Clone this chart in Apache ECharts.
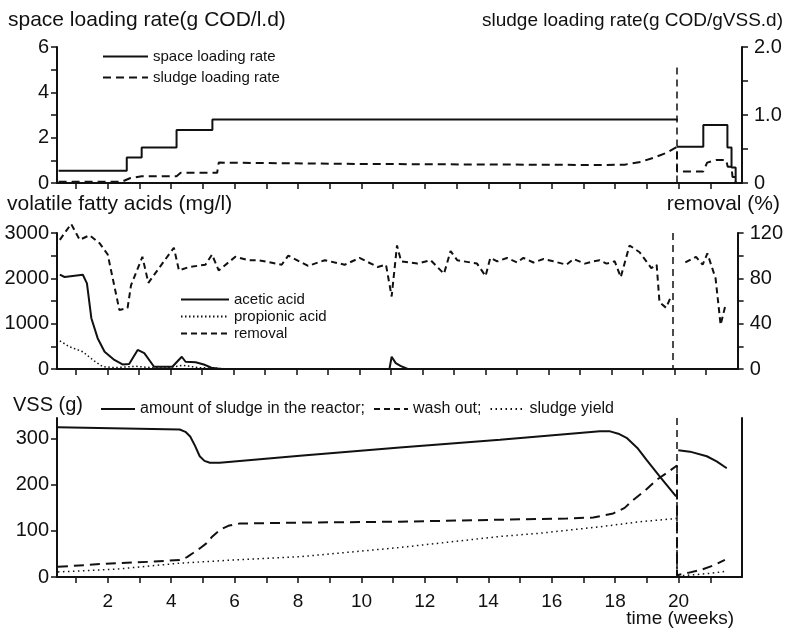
<!DOCTYPE html>
<html>
<head>
<meta charset="utf-8">
<script src="https://cdn.jsdelivr.net/npm/echarts@6/dist/echarts.min.js"></script>
<style>
  html, body { margin: 0; padding: 0; background: #fff; }
  #chart { width: 786px; height: 632px; }
</style>
</head>
<body>
<div id="chart"></div>
<script>
// x values are weeks, y values in the units of each panel's axis
var weekTicks = [1, 2, 3, 4, 5, 6, 7, 8, 9, 10, 11, 12, 13, 14, 15, 16, 17, 18, 19, 20, 21]
var weekLabels = [2, 4, 6, 8, 10, 12, 14, 16, 18, 20]
var switchWeek = 19.95

// top panel
var spaceLoading = [[0.45, 0.54], [2.6, 1.12], [3.07, 1.57], [4.17, 2.34], [5.3, 2.8], [19.95, 2.75], '-',
  [19.95, 1.6], [20.78, 2.56], [21.54, 1.57], [21.67, 0.68], [21.8, 0]]
var sludgeLoading = [[0.45, 0.02], [2.45, 0.02], [2.7, 0.07], [3.07, 0.1], [4.17, 0.1], [4.3, 0.15], [5.45, 0.15],
  [5.5, 0.3], [10, 0.28], [17.5, 0.265], [18.3, 0.27], [18.8, 0.31], [19.2, 0.37], [19.6, 0.44], [19.95, 0.53],
  [19.95, 0.17], [20.78, 0.17], [20.9, 0.3], [21.2, 0.34], [21.5, 0.34], [21.55, 0.24], [21.67, 0.24],
  [21.7, 0.09], [21.8, 0.09], [21.8, 0]]

// middle panel
var aceticAcid = [[0.49, 2080], [0.64, 2030], [1.22, 2080], [1.35, 1890], [1.49, 1120], [1.69, 680], [1.91, 380],
  [2.22, 200], [2.48, 100], [2.69, 110], [2.96, 420], [3.17, 350], [3.48, 50], [4.06, 50], [4.36, 270],
  [4.48, 160], [4.8, 150], [5.06, 100], [5.3, 30], [5.6, 0], '-',
  [10.95, 0], [11.02, 270], [11.15, 130], [11.3, 70], [11.53, 0]]
var propionicAcid = [[0.49, 620], [0.8, 490], [1.22, 380], [1.54, 200], [1.85, 50], [2.27, 30], [2.9, 60],
  [3.2, 40], [3.8, 20], [4.4, 80], [4.9, 30], [5.7, 10]]
var removal = [[0.49, 114], [0.85, 128], [1.12, 114], [1.43, 118], [1.75, 111], [2.01, 101], [2.38, 52],
  [2.64, 54], [2.75, 74], [3.11, 99], [3.3, 76], [3.74, 93], [4.11, 107], [4.27, 87], [4.59, 90], [5.11, 92],
  [5.32, 101], [5.53, 87], [6.06, 99], [6.48, 96], [6.8, 96], [7.53, 92], [7.74, 100], [8.37, 91], [8.9, 96],
  [9.53, 92], [10.0, 98], [10.58, 90], [10.84, 92], [11.02, 64], [11.19, 109], [11.32, 95], [11.84, 93],
  [12.26, 96], [12.68, 84], [12.89, 104], [13.1, 96], [13.73, 93], [14.0, 82], [14.15, 98], [14.37, 95],
  [14.68, 98], [15.0, 94], [15.2, 98], [15.52, 94], [15.84, 97], [16.15, 95], [16.57, 92], [16.79, 97],
  [17.15, 93], [17.42, 95], [17.62, 96], [17.84, 93], [18.1, 95], [18.29, 81], [18.57, 109], [18.89, 103],
  [19.26, 89], [19.43, 92], [19.52, 59], [19.73, 54], [19.9, 65], '-',
  [20.34, 94], [20.68, 99], [20.89, 92], [21.04, 102], [21.3, 80], [21.46, 39], [21.62, 57]]

// bottom panel
var sludgeAmount = [[0.43, 325], [4.27, 320], [4.45, 315], [4.6, 305], [4.75, 285], [4.9, 262], [5.05, 252],
  [5.22, 248], [5.53, 248], [8.06, 263], [11.21, 281], [14.37, 298], [17.52, 316], [17.84, 316], [18.1, 311],
  [18.36, 302], [18.7, 280], [18.99, 254], [19.41, 218], [19.92, 175], '-',
  [19.99, 275], [20.36, 272], [20.89, 262], [21.2, 251], [21.52, 236]]
var washOut = [[0.43, 22], [1.75, 28], [3.32, 33], [4.27, 37], [4.5, 43], [4.69, 52], [4.9, 62], [5.11, 73],
  [5.3, 88], [5.53, 102], [5.8, 111], [6.16, 116], [8, 118], [11.2, 120], [16.47, 127], [17.31, 129],
  [17.94, 138], [18.3, 150], [18.57, 167], [18.95, 188], [19.31, 211], [19.65, 227], [19.95, 242],
  [19.95, 4], [20.3, 9], [20.68, 15], [21.1, 25], [21.46, 37]]
var sludgeYield = [[0.43, 11], [2.27, 17], [4.27, 30], [6, 37], [8.06, 44], [11.21, 64], [14.37, 88],
  [15.63, 95], [17.52, 109], [18.8, 120], [19.95, 127], [19.95, 2], [20.5, 5], [21.0, 8], [21.46, 12]]

var font = 'Liberation Sans'
var ink = '#111'

function xAxisCfg(gridIndex, showLabels) {
  return {
    type: 'value',
    gridIndex: gridIndex,
    min: 0.4,
    max: 22,
    axisLine: { lineStyle: { color: ink, width: 2 } },
    axisTick: { customValues: weekTicks, length: 6, lineStyle: { color: ink, width: 1.5 } },
    axisLabel: { show: showLabels, customValues: weekLabels, color: ink, fontSize: 19, fontFamily: font, margin: 15 },
    splitLine: { show: false }
  }
}

function yAxisCfg(gridIndex, pos, max, labels, ticks, fmt) {
  return {
    type: 'value',
    gridIndex: gridIndex,
    position: pos,
    min: 0,
    max: max,
    axisLine: { show: true, lineStyle: { color: ink, width: 2 } },
    axisTick: { show: !!ticks, customValues: ticks || [], length: 6, lineStyle: { color: ink, width: 1.5 } },
    axisLabel: {
      show: !!labels,
      customValues: labels || [],
      color: ink,
      fontSize: 20,
      fontFamily: font,
      margin: pos === 'left' ? 8 : 12,
      formatter: fmt || function (v) { return String(v) }
    },
    splitLine: { show: false }
  }
}

function switchLine(top) {
  return {
    silent: true,
    symbol: 'none',
    label: { show: false },
    lineStyle: { color: ink, type: [7, 5], width: 1.5 },
    data: [[{ coord: [switchWeek, top] }, { coord: [switchWeek, 0] }]]
  }
}

function legendCfg(names, left, top, orient, gap, width, size) {
  return {
    data: names,
    left: left,
    top: top,
    orient: orient,
    itemGap: gap,
    itemWidth: width,
    itemHeight: 10,
    padding: 0,
    itemStyle: { opacity: 0 },
    textStyle: { color: ink, fontSize: size, fontFamily: font },
    selectedMode: false
  }
}

var chart = echarts.init(document.getElementById('chart'), null, { renderer: 'canvas' })

var option = {
  backgroundColor: '#fff',
  animation: false,
  title: [
    { text: 'space loading rate(g COD/l.d)', left: 8, top: 10, padding: 0, textStyle: { fontSize: 21, fontWeight: 'normal', color: ink, fontFamily: font } },
    { text: 'sludge loading rate(g COD/gVSS.d)', right: 3, top: 11, padding: 0, textStyle: { fontSize: 19, fontWeight: 'normal', color: ink, fontFamily: font } },
    { text: 'volatile fatty acids (mg/l)', left: 7, top: 194, padding: 0, textStyle: { fontSize: 21, fontWeight: 'normal', color: ink, fontFamily: font } },
    { text: 'removal (%)', right: 6, top: 194, padding: 0, textStyle: { fontSize: 21, fontWeight: 'normal', color: ink, fontFamily: font } },
    { text: 'VSS (g)', left: 13, top: 395, padding: 0, textStyle: { fontSize: 20, fontWeight: 'normal', color: ink, fontFamily: font } },
    { text: 'time (weeks)', right: 52, top: 609, padding: 0, textStyle: { fontSize: 19, fontWeight: 'normal', color: ink, fontFamily: font } }
  ],
  legend: [
    legendCfg(['space loading rate', 'sludge loading rate'], 102, 49, 'vertical', 6, 45, 15),
    legendCfg(['acetic acid', 'propionic acid', 'removal'], 180, 292, 'vertical', 2, 48, 15),
    legendCfg(['amount of sludge in the reactor;', { name: 'wash out;', lineStyle: { type: [6, 4] } }, 'sludge yield'],
      100, 401, 'horizontal', 8, 34, 16)
  ],
  grid: [
    { left: 57, right: 44, top: 47, height: 136 },
    { left: 57, right: 44, top: 233, height: 136 },
    { left: 57, right: 44, top: 418, height: 159 }
  ],
  xAxis: [xAxisCfg(0, false), xAxisCfg(1, false), xAxisCfg(2, true)],
  yAxis: [
    yAxisCfg(0, 'left', 6, [0, 2, 4, 6], [0, 1, 2, 3, 4, 5, 6]),
    yAxisCfg(0, 'right', 2, [0, 1, 2], [0, 0.5, 1, 1.5, 2], function (v) { return v === 0 ? '0' : v.toFixed(1) }),
    yAxisCfg(1, 'left', 3000, [0, 1000, 2000, 3000], [0, 500, 1000, 1500, 2000, 2500, 3000]),
    yAxisCfg(1, 'right', 120, [0, 40, 80, 120], [0, 20, 40, 60, 80, 100, 120]),
    yAxisCfg(2, 'left', 345, [0, 100, 200, 300], [0, 100, 200, 300]),
    yAxisCfg(2, 'right', 345, null, null)
  ],
  series: [
    {
      name: 'space loading rate', type: 'line', xAxisIndex: 0, yAxisIndex: 0, step: 'end',
      symbol: 'none', data: spaceLoading, lineStyle: { color: ink, width: 2 }, itemStyle: { color: ink },
      markLine: switchLine(5.1)
    },
    {
      name: 'sludge loading rate', type: 'line', xAxisIndex: 0, yAxisIndex: 1,
      symbol: 'none', data: sludgeLoading, lineStyle: { color: ink, width: 2, type: [8, 5] }, itemStyle: { color: ink }
    },
    {
      name: 'acetic acid', type: 'line', xAxisIndex: 1, yAxisIndex: 2,
      symbol: 'none', data: aceticAcid, lineStyle: { color: ink, width: 2 }, itemStyle: { color: ink },
      markLine: switchLine(3000)
    },
    {
      name: 'propionic acid', type: 'line', xAxisIndex: 1, yAxisIndex: 2,
      symbol: 'none', data: propionicAcid, lineStyle: { color: ink, width: 1.5, type: [1.5, 2.5] }, itemStyle: { color: ink }
    },
    {
      name: 'removal', type: 'line', xAxisIndex: 1, yAxisIndex: 3, clip: false,
      symbol: 'none', data: removal, lineStyle: { color: ink, width: 2, type: [6, 4] }, itemStyle: { color: ink }
    },
    {
      name: 'amount of sludge in the reactor;', type: 'line', xAxisIndex: 2, yAxisIndex: 4,
      symbol: 'none', data: sludgeAmount, lineStyle: { color: ink, width: 2 }, itemStyle: { color: ink },
      markLine: switchLine(345)
    },
    {
      name: 'wash out;', type: 'line', xAxisIndex: 2, yAxisIndex: 4,
      symbol: 'none', data: washOut, lineStyle: { color: ink, width: 2, type: [10, 6] }, itemStyle: { color: ink }
    },
    {
      name: 'sludge yield', type: 'line', xAxisIndex: 2, yAxisIndex: 4,
      symbol: 'none', data: sludgeYield, lineStyle: { color: ink, width: 1.5, type: [1.5, 3.5] }, itemStyle: { color: ink }
    }
  ]
}

chart.setOption(option)
</script>
</body>
</html>
